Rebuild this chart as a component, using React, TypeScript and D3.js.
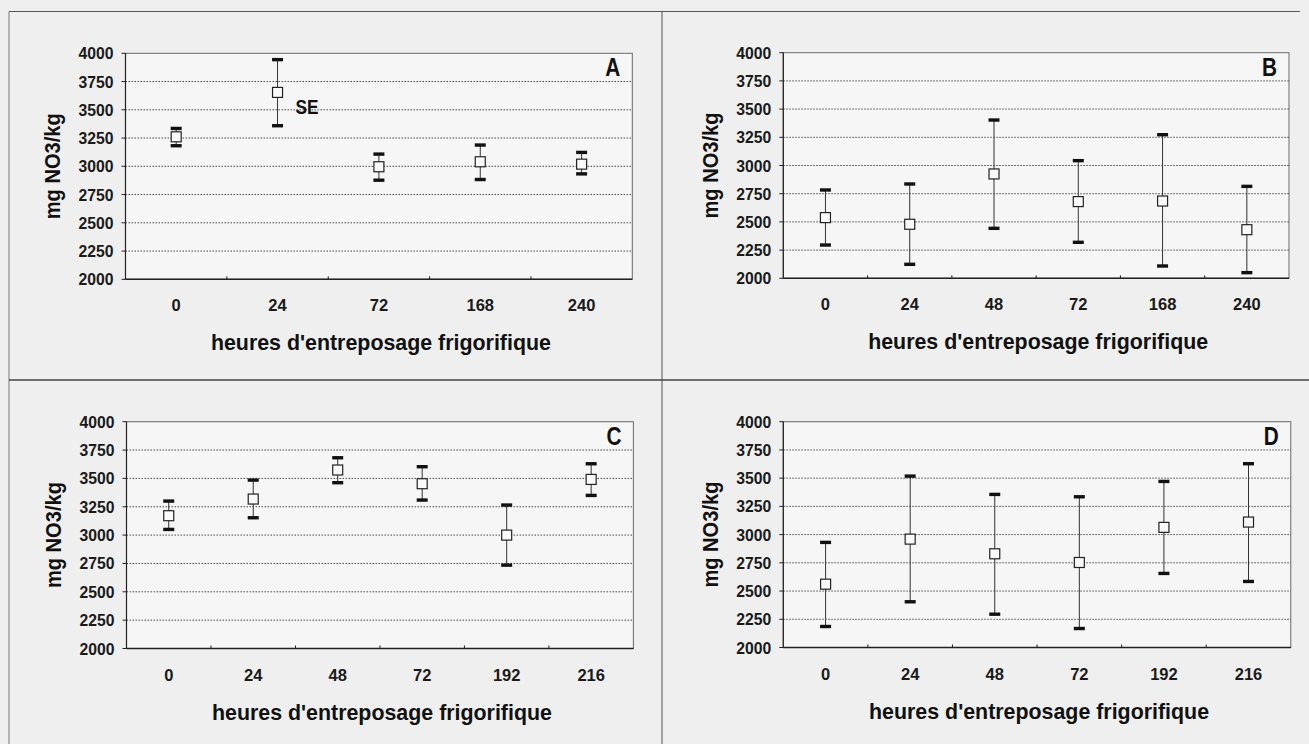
import React from "react";
import * as d3 from "d3";

// ---------- data ----------
const catsA = ["0", "24", "72", "168", "240"];
const meanA = [3261, 3654, 2996, 3040, 3019];
const upA = [3335, 3944, 3108, 3188, 3123];
const lowA = [3182, 3359, 2877, 2883, 2933];

const catsB = ["0", "24", "48", "72", "168", "240"];
const meanB = [2538, 2479, 2925, 2680, 2685, 2431];
const upB = [2783, 2836, 3403, 3043, 3273, 2815];
const lowB = [2295, 2124, 2443, 2319, 2109, 2050];

const catsC = ["0", "24", "48", "72", "192", "216"];
const meanC = [3171, 3318, 3574, 3453, 3000, 3491];
const upC = [3300, 3485, 3682, 3603, 3265, 3629];
const lowC = [3050, 3153, 3462, 3309, 2735, 3350];

const catsD = ["0", "24", "48", "72", "192", "216"];
const meanD = [2561, 2960, 2830, 2753, 3064, 3111];
const upD = [2931, 3518, 3356, 3335, 3471, 3628];
const lowD = [2186, 2405, 2295, 2168, 2656, 2585];

const yTicks = [2000, 2250, 2500, 2750, 3000, 3250, 3500, 3750, 4000];
const yTitle = "mg NO3/kg";
const xTitle = "heures d'entreposage frigorifique";

const FONT = "'Liberation Sans', Arial, sans-serif";

type PanelProps = {
  cats: string[];
  mean: number[];
  up: number[];
  low: number[];
  letter: string;
  left: number;
  right: number;
  top: number;
  bottom: number;
  se?: boolean;
};

function Panel({ cats, mean, up, low, letter, left, right, top, bottom, se }: PanelProps) {
  const x = d3.scaleBand<string>().domain(cats).range([left, right]).paddingInner(0).paddingOuter(0);
  const y = d3.scaleLinear().domain([2000, 4000]).range([bottom, top]);
  const bw = x.bandwidth();
  const cx = (c: string) => (x(c) as number) + bw / 2;
  return (
    <g>
      <rect x={left} y={top} width={right - left} height={bottom - top} fill="#f6f6f6" stroke="#6a6a6a" strokeWidth={1} />
      {yTicks.filter((t) => t > 2000 && t < 4000).map((t) => (
        <line key={"g" + t} x1={left} x2={right} y1={y(t)} y2={y(t)} stroke="#4a4a4a" strokeWidth={1} strokeDasharray="1.5,1.5" />
      ))}
      <line x1={left} x2={left} y1={top} y2={bottom} stroke="#222" strokeWidth={1.2} />
      <line x1={left} x2={right} y1={bottom} y2={bottom} stroke="#222" strokeWidth={1.4} />
      {yTicks.map((t) => (
        <g key={"t" + t}>
          <line x1={left - 4} x2={left} y1={y(t)} y2={y(t)} stroke="#222" strokeWidth={1} />
          <text x={left - 12} y={y(t) + 6} textAnchor="end" fontFamily={FONT} fontSize={16.5} fontWeight="bold" fill="#1a1a1a" textLength={35} lengthAdjust="spacingAndGlyphs">
            {t}
          </text>
        </g>
      ))}
      {cats.slice(1).map((c) => (
        <line key={"xt" + c} x1={x(c) as number} x2={x(c) as number} y1={bottom} y2={bottom - 3} stroke="#222" strokeWidth={1} />
      ))}
      {cats.map((c) => (
        <text key={"xl" + c} x={cx(c)} y={bottom + 32} textAnchor="middle" fontFamily={FONT} fontSize={16.5} fontWeight="bold" fill="#1a1a1a">
          {c}
        </text>
      ))}
      {cats.map((c, i) => (
        <g key={"e" + c}>
          <line x1={cx(c)} x2={cx(c)} y1={y(up[i])} y2={y(low[i])} stroke="#333" strokeWidth={1} />
          <rect x={cx(c) - 5.5} y={y(up[i]) - 1.7} width={11} height={3.4} fill="#111" />
          <rect x={cx(c) - 5.5} y={y(low[i]) - 1.7} width={11} height={3.4} fill="#111" />
          <rect x={cx(c) - 5} y={y(mean[i]) - 5} width={10} height={10} fill="#fafafa" stroke="#222" strokeWidth={1.2} />
        </g>
      ))}
      {se && (
        <text x={cx(cats[1]) + 18} y={y(3500) + 4} fontFamily={FONT} fontSize={21} fontWeight="bold" fill="#111" textLength={23} lengthAdjust="spacingAndGlyphs">
          SE
        </text>
      )}
      <text x={right - 27} y={top + 23} fontFamily={FONT} fontSize={26.5} fontWeight="bold" fill="#111" textLength={15} lengthAdjust="spacingAndGlyphs">
        {letter}
      </text>
      <text
        transform={`translate(${left - 73},${(top + bottom) / 2}) rotate(-90)`}
        textAnchor="middle"
        dominantBaseline="central"
        fontFamily={FONT}
        fontSize={22}
        fontWeight="bold"
        fill="#111"
        textLength={106}
        lengthAdjust="spacingAndGlyphs"
      >
        {yTitle}
      </text>
      <text
        x={(left + right) / 2 + 2}
        y={bottom + 71}
        textAnchor="middle"
        fontFamily={FONT}
        fontSize={22}
        fontWeight="bold"
        fill="#111"
        textLength={340}
        lengthAdjust="spacingAndGlyphs"
      >
        {xTitle}
      </text>
    </g>
  );
}

export default function App() {
  return (
    <svg width={1309} height={744} style={{ position: "absolute", left: 0, top: 0 }}>
      <rect x={0} y={0} width={1309} height={744} fill="#efefef" />
      <line x1={9} x2={1300} y1={11.5} y2={11.5} stroke="#555" strokeWidth={1.2} />
      <line x1={9} x2={9} y1={11.5} y2={744} stroke="#777" strokeWidth={1} />
      <line x1={662} x2={662} y1={11.5} y2={744} stroke="#555" strokeWidth={1} />
      <line x1={9} x2={1309} y1={380} y2={380} stroke="#444" strokeWidth={1.4} />
      <Panel cats={catsA} mean={meanA} up={upA} low={lowA} letter="A" left={125.5} right={632.3} top={53.3} bottom={279.3} se />
      <Panel cats={catsB} mean={meanB} up={upB} low={lowB} letter="B" left={783.3} right={1289} top={52.7} bottom={278.3} />
      <Panel cats={catsC} mean={meanC} up={upC} low={lowC} letter="C" left={126.5} right={633.4} top={421.7} bottom={648.5} />
      <Panel cats={catsD} mean={meanD} up={upD} low={lowD} letter="D" left={783.3} right={1290.8} top={421.7} bottom={647.5} />
    </svg>
  );
}
